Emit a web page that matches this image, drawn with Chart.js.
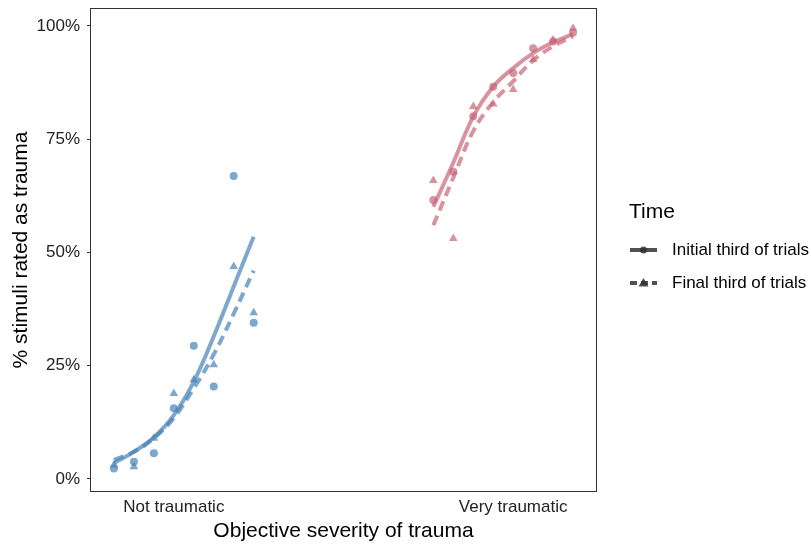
<!DOCTYPE html>
<html>
<head>
<meta charset="utf-8">
<script src="https://cdn.jsdelivr.net/npm/chart.js@4.4.1/dist/chart.umd.min.js"></script>
<style>
    html, body { margin: 0; padding: 0; background: #fff; }
    #boxGrafico { width: 811px; height: 544px; position: relative; }
</style>
</head>
<body>
<div id="boxGrafico"><canvas id="graficoTrauma"></canvas></div>
<script>
// Posição dos estímulos no eixo x
const xNaoTraumatico = [1, 2, 3, 4, 5, 6, 7, 8];
const xMuitoTraumatico = [17, 18, 19, 20, 21, 22, 23, 24];

// % de estímulos avaliados como trauma (pontos)
const azulInicial = [2.3, 3.8, 5.7, 15.6, 29.4, 20.4, 66.9, 34.5];
const azulFinal = [3.1, 2.7, 9.0, 18.9, 21.9, 25.2, 46.9, 36.7];
const vermelhoInicial = [61.6, 67.8, 80.1, 86.6, 89.6, 95.1, 96.6, 98.5];
const vermelhoFinal = [65.9, 53.1, 82.2, 82.8, 86.0, 92.6, 96.9, 99.5];

// Curvas ajustadas
const curvaAzulInicial = [3.5, 6.0, 9.2, 14.1, 21.5, 31.5, 42.5, 53.5];
const curvaAzulFinal = [4.2, 6.0, 9.0, 13.5, 20.0, 27.5, 36.5, 46.0];
const curvaVermelhoInicial = [60.1, 69.8, 80.0, 86.6, 90.7, 94.0, 96.4, 98.2];
const curvaVermelhoFinal = [56.0, 66.5, 76.8, 83.2, 87.8, 92.4, 95.5, 97.7];

// Eixos e legenda
const ticksY = [0, 25, 50, 75, 100];
const ticksX = [4, 21];
const labelsX = ['Not traumatic', 'Very traumatic'];
const labelsTime = ['Initial third of trials', 'Final third of trials'];

const corAzul = 'rgba(70, 130, 182, 0.7)';
const corVermelho = 'rgba(200, 100, 120, 0.7)';
const fonte = '"Liberation Sans", Arial, sans-serif';

function juntar(xs, ys) {
    return xs.map((x, i) => ({ x: x, y: ys[i] }));
}

function pontos(label, xs, ys, cor, estilo) {
    return {
        label: label,
        data: juntar(xs, ys),
        showLine: false,
        pointStyle: estilo,
        pointRadius: estilo == 'triangle' ? 5 : 4,
        pointBackgroundColor: cor,
        pointBorderWidth: 0,
        borderColor: cor
    };
}

function curva(label, xs, ys, cor, tracejada) {
    return {
        label: label,
        data: juntar(xs, ys),
        borderColor: cor,
        borderWidth: 4,
        borderDash: tracejada ? [10, 6] : [],
        pointRadius: 0,
        tension: 0.4,
        fill: false
    };
}

// Moldura do painel e legenda "Time"
const pluginMoldura = {
    id: 'pluginMoldura',
    afterDraw(chart) {
        const ctx = chart.ctx;
        const area = chart.chartArea;
        ctx.save();
        ctx.strokeStyle = '#333333';
        ctx.lineWidth = 1;
        ctx.strokeRect(area.left - 0.5, area.top - 0.5, area.right - area.left + 1, area.bottom - area.top + 1);

        ctx.fillStyle = '#000';
        ctx.textBaseline = 'middle';
        ctx.font = '21px ' + fonte;
        ctx.fillText('Time', 629, 212);

        ctx.font = '17px ' + fonte;
        const linhasY = [250, 283];
        labelsTime.forEach((texto, i) => {
            const y = linhasY[i];
            ctx.strokeStyle = 'rgba(51, 51, 51, 0.85)';
            ctx.fillStyle = 'rgba(51, 51, 51, 0.85)';
            ctx.lineWidth = 4;
            ctx.setLineDash(i == 0 ? [] : [7, 4]);
            ctx.beginPath();
            ctx.moveTo(630, y);
            ctx.lineTo(657, y);
            ctx.stroke();
            ctx.setLineDash([]);
            ctx.beginPath();
            if (i == 0) {
                ctx.arc(643.5, y, 3.5, 0, Math.PI * 2);
            } else {
                ctx.moveTo(643.5, y - 5);
                ctx.lineTo(648.5, y + 3.5);
                ctx.lineTo(638.5, y + 3.5);
                ctx.closePath();
            }
            ctx.fill();
            ctx.fillStyle = '#000';
            ctx.fillText(texto, 672, y);
        });
        ctx.restore();
    }
};

const ctxTrauma = document.getElementById('graficoTrauma');

const chart = new Chart(ctxTrauma, {
    type: 'line',
    data: {
        datasets: [
            curva('Initial - not', xNaoTraumatico, curvaAzulInicial, corAzul, false),
            curva('Final - not', xNaoTraumatico, curvaAzulFinal, corAzul, true),
            curva('Initial - very', xMuitoTraumatico, curvaVermelhoInicial, corVermelho, false),
            curva('Final - very', xMuitoTraumatico, curvaVermelhoFinal, corVermelho, true),
            pontos('Initial pts - not', xNaoTraumatico, azulInicial, corAzul, 'circle'),
            pontos('Final pts - not', xNaoTraumatico, azulFinal, corAzul, 'triangle'),
            pontos('Initial pts - very', xMuitoTraumatico, vermelhoInicial, corVermelho, 'circle'),
            pontos('Final pts - very', xMuitoTraumatico, vermelhoFinal, corVermelho, 'triangle')
        ]
    },
    options: {
        responsive: true,
        maintainAspectRatio: false,
        animation: false,
        layout: {
            padding: { left: 0, top: 9, right: 215, bottom: 0 }
        },
        scales: {
            x: {
                type: 'linear',
                min: -0.15,
                max: 25.15,
                afterFit: (scale) => {
                    scale.height = 53;
                    scale.paddingLeft = 0;
                    scale.paddingRight = 0;
                },
                afterBuildTicks: (scale) => { scale.ticks = ticksX.map(v => ({ value: v })); },
                grid: { display: false, drawTicks: false },
                border: { display: false },
                ticks: {
                    autoSkip: false,
                    maxRotation: 0,
                    padding: 6,
                    color: '#222222',
                    font: { family: fonte, size: 17 },
                    callback: (valor) => labelsX[ticksX.indexOf(valor)]
                },
                title: {
                    display: true,
                    text: 'Objective severity of trauma',
                    color: '#000',
                    font: { family: fonte, size: 21 },
                    padding: { top: 0, bottom: 0 }
                }
            },
            y: {
                min: -2.65,
                max: 103.75,
                afterFit: (scale) => {
                    scale.width = 91;
                    scale.paddingTop = 0;
                    scale.paddingBottom = 0;
                },
                afterBuildTicks: (scale) => { scale.ticks = ticksY.map(v => ({ value: v })); },
                grid: {
                    display: true,
                    drawOnChartArea: false,
                    drawTicks: true,
                    tickLength: 4,
                    color: '#333333'
                },
                border: { display: false },
                ticks: {
                    padding: 7,
                    color: '#222222',
                    font: { family: fonte, size: 17 },
                    callback: (valor) => valor + '%'
                },
                title: {
                    display: true,
                    text: '% stimuli rated as trauma',
                    color: '#000',
                    font: { family: fonte, size: 21 },
                    padding: { top: 9, bottom: 0 }
                }
            }
        },
        plugins: {
            legend: { display: false },
            tooltip: { enabled: false }
        }
    },
    plugins: [pluginMoldura]
});
</script>
</body>
</html>
